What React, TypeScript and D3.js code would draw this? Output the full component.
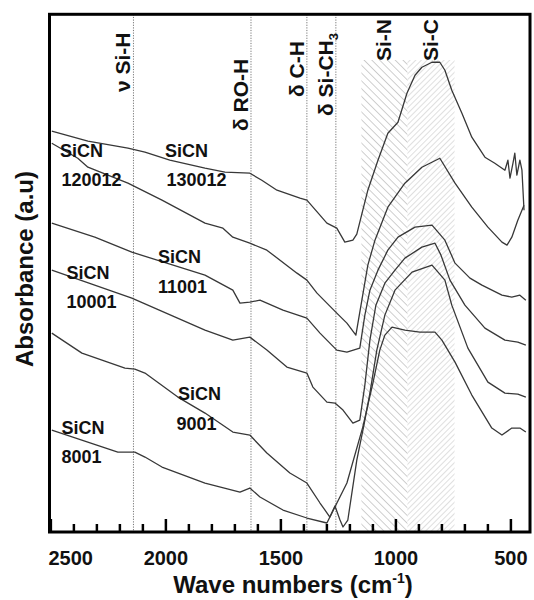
import React from 'react';
import * as d3 from 'd3';

// ---------- data (wavenumber cm-1 / absorbance a.u.) ----------
const wn130012 = [2496, 2339, 2165, 2091, 1983, 1830, 1743, 1635, 1583, 1517, 1417, 1387, 1300, 1257, 1222, 1187, 1170, 1122, 1078, 1035, 991, 952, 917, 887, 843, 809, 787, 757, 713, 670, 613, 570, 526, 513, 504, 491, 483, 474, 461, 452, 443];
const ab130012 = [4.01, 3.91, 3.84, 3.80, 3.72, 3.64, 3.60, 3.59, 3.52, 3.42, 3.34, 3.32, 3.09, 3.04, 2.90, 2.92, 2.98, 3.42, 3.72, 3.99, 4.10, 4.39, 4.57, 4.65, 4.70, 4.70, 4.62, 4.42, 4.19, 3.95, 3.75, 3.69, 3.62, 3.72, 3.54, 3.69, 3.79, 3.57, 3.72, 3.62, 3.22];

const wn120012 = [2496, 2383, 2339, 2165, 2017, 1830, 1752, 1709, 1635, 1561, 1430, 1387, 1343, 1257, 1213, 1174, 1148, 1122, 1091, 1035, 961, 887, 809, 743, 670, 600, 539, 517, 496, 470, 443];
const ab120012 = [3.89, 3.74, 3.65, 3.49, 3.32, 3.09, 3.04, 2.95, 2.89, 2.82, 2.59, 2.52, 2.39, 2.19, 2.09, 1.97, 2.32, 2.67, 2.92, 3.25, 3.49, 3.65, 3.74, 3.49, 3.25, 3.05, 2.90, 2.87, 2.95, 3.12, 3.27];

const wn11001 = [2496, 2309, 2148, 1830, 1709, 1678, 1635, 1591, 1491, 1387, 1330, 1257, 1213, 1157, 1135, 1113, 1078, 1035, 991, 917, 843, 787, 743, 678, 626, 539, 496, 461, 435];
const ab11001 = [3.09, 2.95, 2.80, 2.57, 2.42, 2.29, 2.30, 2.32, 2.22, 2.14, 1.99, 1.82, 1.80, 1.84, 2.17, 2.42, 2.62, 2.82, 2.95, 3.05, 3.07, 2.92, 2.69, 2.54, 2.47, 2.37, 2.35, 2.37, 2.32];

const wn10001 = [2496, 2148, 1830, 1709, 1635, 1561, 1474, 1387, 1361, 1300, 1265, 1230, 1187, 1157, 1135, 1113, 1087, 1048, 1004, 961, 887, 830, 804, 765, 700, 613, 526, 470, 435];
const ab10001 = [2.62, 2.34, 2.02, 1.92, 1.95, 1.82, 1.65, 1.59, 1.45, 1.30, 1.29, 1.22, 1.09, 1.12, 1.47, 1.92, 2.27, 2.49, 2.62, 2.74, 2.85, 2.89, 2.77, 2.52, 2.27, 2.04, 1.92, 1.90, 1.87];

const wn9001 = [2496, 2365, 2178, 2135, 2091, 1948, 1830, 1709, 1635, 1561, 1461, 1387, 1330, 1287, 1265, 1243, 1230, 1209, 1170, 1139, 1113, 1083, 1048, 1004, 930, 843, 787, 757, 687, 600, 526, 470, 435];
const ab9001 = [1.99, 1.79, 1.64, 1.63, 1.59, 1.35, 1.19, 1.00, 0.97, 0.79, 0.59, 0.49, 0.29, 0.15, 0.26, 0.12, 0.05, 0.12, 0.72, 1.07, 1.39, 1.82, 2.17, 2.42, 2.60, 2.67, 2.52, 2.27, 1.84, 1.50, 1.39, 1.38, 1.35];

const wn8001 = [2496, 2209, 2135, 2091, 2017, 1830, 1678, 1635, 1591, 1491, 1387, 1300, 1213, 1144, 1100, 1070, 1048, 1017, 961, 896, 830, 800, 743, 670, 583, 539, 496, 461, 435];
const ab8001 = [1.02, 0.80, 0.80, 0.75, 0.65, 0.49, 0.40, 0.44, 0.35, 0.22, 0.14, 0.09, 0.49, 1.05, 1.49, 1.82, 1.97, 2.05, 2.02, 2.00, 2.00, 1.92, 1.70, 1.37, 1.04, 0.97, 1.04, 1.04, 1.00];

const seriesNames = ['130012', '120012', '11001', '10001', '9001', '8001'];
const seriesWn = [wn130012, wn120012, wn11001, wn10001, wn9001, wn8001];
const seriesAb = [ab130012, ab120012, ab11001, ab10001, ab9001, ab8001];

const majorTicks = [2500, 2000, 1500, 1000, 500];
const minorTicks = d3.range(2500, 450, -100);

const bondLineWn = [2141, 1630, 1387, 1261];
const bondLabels = ['ν Si-H', 'δ RO-H', 'δ C-H', 'δ Si-CH'];
const bandRangeSiN = [1150, 950];
const bandRangeSiC = [950, 745];
const bandLabels = ['Si-N', 'Si-C'];

// ---------- layout ----------
const L = 49.5, R = 530, T = 14.3, B = 532;
const FONT = "'Liberation Sans', Arial, Helvetica, sans-serif";
const seriesLabelPos: Record<string, [number, number, number, number]> = {
  '120012': [60, 157, 61.5, 186],
  '130012': [165, 157, 166.5, 186],
  '11001': [158, 263, 158, 293],
  '10001': [66.5, 279, 66.5, 308],
  '9001': [178, 400, 176.5, 430],
  '8001': [61.5, 434, 61.5, 463],
};
const bondLabelStartY = [92, 131, 97, 116];

export default function App() {
  const x = d3.scaleLinear().domain([2506, 417]).range([L, R]);
  const y = d3.scaleLinear().domain([0, 5.18]).range([B, T]);
  const line = d3.line<[number, number]>().x(d => x(d[0])).y(d => y(d[1]));
  const hatchTop = 60;

  return (
    <svg width={534} height={600} style={{ position: 'absolute', left: 0, top: 0, background: '#fff' }} fontFamily={FONT}>
      <defs>
        <pattern id="hatchN" patternUnits="userSpaceOnUse" width="5.5" height="5.5" patternTransform="rotate(-45)">
          <line x1="0" y1="0" x2="0" y2="5.5" stroke="#c4c4c4" strokeWidth="1.6" />
        </pattern>
        <pattern id="hatchC" patternUnits="userSpaceOnUse" width="4" height="4" patternTransform="rotate(45)">
          <line x1="0" y1="0" x2="0" y2="4" stroke="#cdcdcd" strokeWidth="1.3" />
        </pattern>
        <clipPath id="plotClip">
          <rect x={L} y={T} width={R - L} height={B - T} />
        </clipPath>
      </defs>

      {/* hatched bands */}
      <rect x={x(bandRangeSiN[0])} y={hatchTop} width={x(bandRangeSiN[1]) - x(bandRangeSiN[0])} height={B - hatchTop} fill="url(#hatchN)" />
      <rect x={x(bandRangeSiC[0])} y={hatchTop} width={x(bandRangeSiC[1]) - x(bandRangeSiC[0])} height={B - hatchTop} fill="url(#hatchC)" />

      {/* dotted reference lines */}
      {bondLineWn.map((w, i) => (
        <line key={'bl' + i} x1={x(w)} x2={x(w)} y1={T} y2={B} stroke="#777" strokeWidth={1} strokeDasharray="1.2,1.4" />
      ))}

      {/* spectra */}
      <g clipPath="url(#plotClip)">
        {seriesNames.map((n, i) => (
          <path key={n} d={line(d3.zip(seriesWn[i], seriesAb[i]) as [number, number][]) || ''} fill="none" stroke="#383838" strokeWidth={1.3} strokeLinejoin="round" />
        ))}
      </g>

      {/* frame */}
      <rect x={L} y={T} width={R - L} height={B - T} fill="none" stroke="#000" strokeWidth={3} />

      {/* ticks */}
      {minorTicks.map(v => {
        const major = majorTicks.includes(v);
        return <line key={'t' + v} x1={x(v)} x2={x(v)} y1={B} y2={B - (major ? 13 : 8)} stroke="#000" strokeWidth={2.5} />;
      })}
      {majorTicks.map((v, i) => (
        <text key={'tl' + v} x={i === 0 ? L - 1 : x(v)} y={565} textAnchor={i === 0 ? 'start' : 'middle'} fontSize={20} fontWeight="bold" fill="#111">{v}</text>
      ))}

      {/* axis titles */}
      <text x={293} y={593} textAnchor="middle" fontSize={24} fontWeight="bold" fill="#111">
        Wave numbers (cm<tspan fontSize={14} dy={-10}>-1</tspan><tspan dy={10}>)</tspan>
      </text>
      <text transform="translate(33,269) rotate(-90)" textAnchor="middle" fontSize={24} fontWeight="bold" fill="#111">Absorbance (a.u)</text>

      {/* bond labels */}
      {bondLabels.map((t, i) => (
        <text key={'bt' + i} transform={`translate(${x(bondLineWn[i]) - 3},${bondLabelStartY[i]}) rotate(-90)`} fontSize={21} fontWeight="bold" fill="#111">
          {t}{i === 3 ? <tspan fontSize={13} dy={5}>3</tspan> : null}
        </text>
      ))}
      {[bandRangeSiN, bandRangeSiC].map((r, i) => (
        <text key={'band' + i} transform={`translate(${(x(r[0]) + x(r[1])) / 2 + 7},61) rotate(-90)`} fontSize={21} fontWeight="bold" fill="#111">{bandLabels[i]}</text>
      ))}

      {/* series labels */}
      {seriesNames.map(n => {
        const p = seriesLabelPos[n];
        return (
          <g key={'sl' + n} fontSize={18} fontWeight="bold" fill="#111">
            <text x={p[0]} y={p[1]}>SiCN</text>
            <text x={p[2]} y={p[3]}>{n}</text>
          </g>
        );
      })}
    </svg>
  );
}
